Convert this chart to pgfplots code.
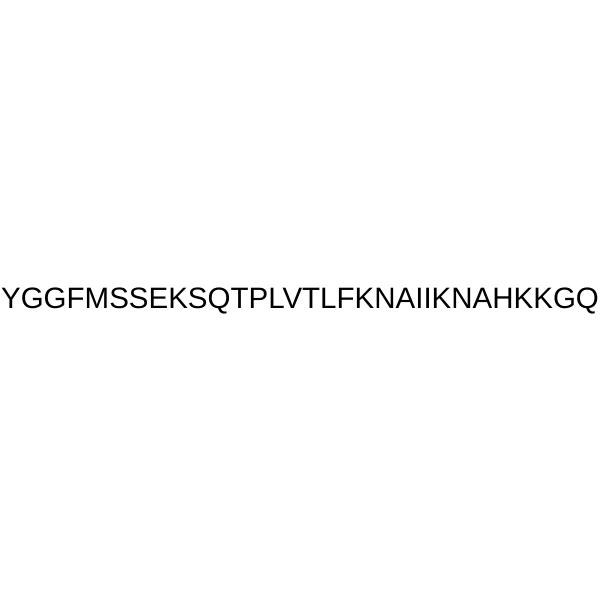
\documentclass[border=0pt]{standalone}
\usepackage{pgfplots}
\pgfplotsset{compat=1.18}
\usepackage{fontspec}
\setmainfont{Liberation Sans}
\begin{document}
\begin{tikzpicture}
\begin{axis}[
  width=300pt, height=300pt, scale only axis,
  xmin=0, xmax=1, ymin=0, ymax=1,
  axis lines=none, ticks=none, clip=false,
]
\addplot[draw=none, mark=none] coordinates {(0,0) (1,1)};
\path[draw=none] (rel axis cs:0,0) rectangle (rel axis cs:1,1);
\node[anchor=base, inner sep=0pt, font=\fontsize{14.75}{17}\selectfont] at (axis cs:0.5,0.4855) {YGGFMSSEKSQTPLVTLFKNAIIKNAHKKGQ};
\end{axis}
\end{tikzpicture}
\end{document}
